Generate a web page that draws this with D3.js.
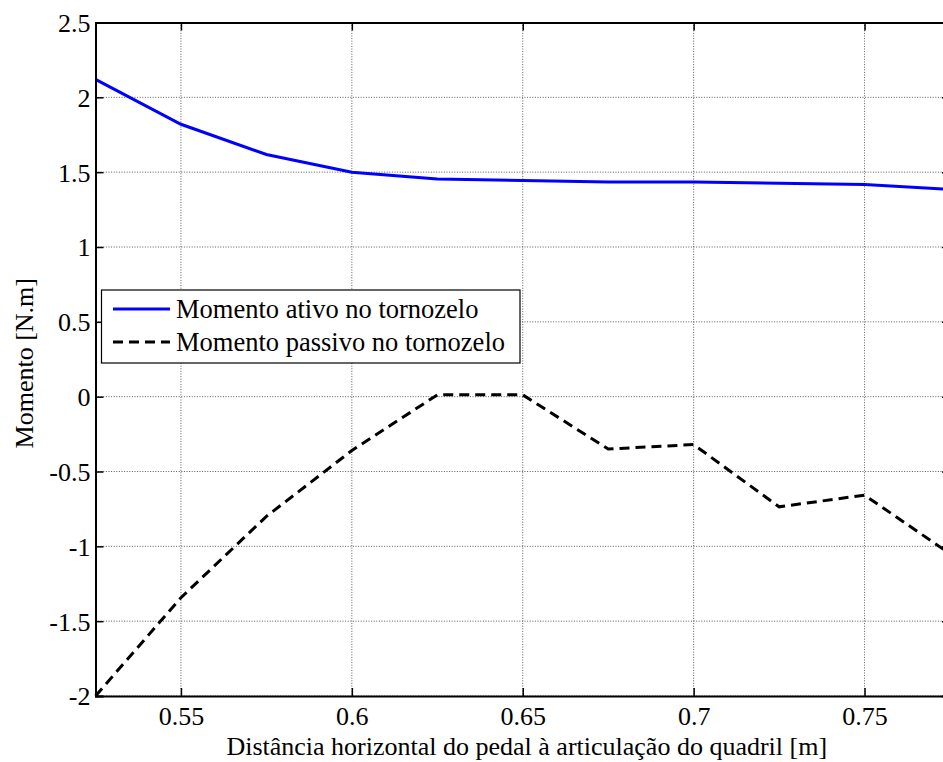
<!DOCTYPE html>
<html>
<head>
<meta charset="utf-8">
<script src="https://cdn.jsdelivr.net/npm/d3@7"></script>
<style>
  html, body { margin: 0; padding: 0; background: #fff; }
  svg { display: block; }
  svg text { fill: #000; }
</style>
</head>
<body>
<svg id="chart" width="943" height="762"></svg>
<script>
// ---- data ----
const xValues = [0.525, 0.55, 0.575, 0.6, 0.625, 0.65, 0.675, 0.7, 0.725, 0.75, 0.775];
const momentoAtivo = [2.12, 1.82, 1.618, 1.50, 1.455, 1.444, 1.434, 1.434, 1.426, 1.418, 1.385];
const momentoPassivo = [-2.0, -1.343, -0.80, -0.36, 0.012, 0.012, -0.35, -0.32, -0.736, -0.658, -1.05];
const xTicks = [0.55, 0.6, 0.65, 0.7, 0.75];
const xTickLabels = ["0.55", "0.6", "0.65", "0.7", "0.75"];
const yTicks = [-2, -1.5, -1, -0.5, 0, 0.5, 1, 1.5, 2, 2.5];
const yTickLabels = ["-2", "-1.5", "-1", "-0.5", "0", "0.5", "1", "1.5", "2", "2.5"];
const seriesNames = ["Momento ativo no tornozelo", "Momento passivo no tornozelo"];
const xTitle = "Distância horizontal do pedal à articulação do quadril [m]";
const yTitle = "Momento [N.m]";

// ---- layout ----
const svg = d3.select("#chart");
const L = 95.5, R = 950, T = 22.5, B = 696;
const x = d3.scaleLinear().domain([0.525, 0.775]).range([L, R]);
const y = d3.scaleLinear().domain([-2, 2.5]).range([B, T]);
const FONT = '"Liberation Serif", "Times New Roman", serif';

// grid
const grid = svg.append("g");
grid.selectAll("line.vx").data(xTicks).enter().append("line")
  .attr("x1", d => x(d)).attr("x2", d => x(d)).attr("y1", T).attr("y2", B)
  .attr("stroke", "#333").attr("stroke-width", 0.8).attr("stroke-dasharray", "1,1.6");
grid.selectAll("line.hy").data(yTicks).enter().append("line")
  .attr("x1", L).attr("x2", R).attr("y1", d => y(d)).attr("y2", d => y(d))
  .attr("stroke", "#333").attr("stroke-width", 0.8).attr("stroke-dasharray", "1,1.6");

// lines
const lineA = d3.line().x((d, i) => x(xValues[i])).y(d => y(d));
svg.append("path").datum(momentoAtivo).attr("d", lineA)
  .attr("fill", "none").attr("stroke", "#0000ff").attr("stroke-width", 3);
svg.append("path").datum(momentoPassivo).attr("d", lineA)
  .attr("fill", "none").attr("stroke", "#000").attr("stroke-width", 3)
  .attr("stroke-dasharray", "10,6");

// axes frame
const tl = 8;
const xAxisB = d3.axisBottom(x).tickValues(xTicks).tickSize(-tl).tickFormat((d, i) => xTickLabels[i]).tickPadding(18);
const gxb = svg.append("g").attr("transform", `translate(0,${B})`).call(xAxisB);
const xAxisT = d3.axisTop(x).tickValues(xTicks).tickSize(-tl).tickFormat("");
const gxt = svg.append("g").attr("transform", `translate(0,${T})`).call(xAxisT);
const yAxisL = d3.axisLeft(y).tickValues(yTicks).tickSize(-tl).tickFormat(d => yTickLabels[yTicks.indexOf(d)]).tickPadding(14);
const gyl = svg.append("g").attr("transform", `translate(${L},0)`).call(yAxisL);
const yAxisR = d3.axisRight(y).tickValues(yTicks).tickSize(-tl).tickFormat("");
const gyr = svg.append("g").attr("transform", `translate(${R},0)`).call(yAxisR);

[gxb, gxt, gyl, gyr].forEach(g => {
  g.attr("font-family", FONT).attr("font-size", 26);
  g.select(".domain").attr("stroke", "#000").attr("stroke-width", 2);
  g.selectAll(".tick line").attr("stroke", "#000").attr("stroke-width", 1.5);
  g.selectAll("text").attr("font-family", FONT).attr("font-size", 26).attr("fill", "#000");
});
gxb.selectAll(".tick text").attr("dy", null).attr("y", 29);
gyl.selectAll(".tick text").attr("dy", "0.34em").attr("x", -5);

// axis titles
svg.append("text").attr("x", (L + R) / 2 + 4).attr("y", 755)
  .attr("text-anchor", "middle").attr("font-family", FONT).attr("font-size", 26).text(xTitle);
svg.append("text").attr("transform", `translate(33,${(T + B) / 2 + 4}) rotate(-90)`)
  .attr("text-anchor", "middle").attr("font-family", FONT).attr("font-size", 26).text(yTitle);

// legend
const lg = svg.append("g");
lg.append("rect").attr("x", 101.5).attr("y", 290).attr("width", 418.5).attr("height", 73)
  .attr("fill", "#fff").attr("stroke", "#000").attr("stroke-width", 1.2);
const legY = [309, 342];
lg.append("line").attr("x1", 113).attr("x2", 170).attr("y1", legY[0]).attr("y2", legY[0])
  .attr("stroke", "#0000ff").attr("stroke-width", 3);
lg.append("line").attr("x1", 113).attr("x2", 170).attr("y1", legY[1]).attr("y2", legY[1])
  .attr("stroke", "#000").attr("stroke-width", 3).attr("stroke-dasharray", "10,6");
seriesNames.forEach((n, i) => {
  lg.append("text").attr("x", 176).attr("y", legY[i]).attr("dy", "0.34em")
    .attr("font-family", FONT).attr("font-size", 26.5).text(n);
});
</script>
</body>
</html>
